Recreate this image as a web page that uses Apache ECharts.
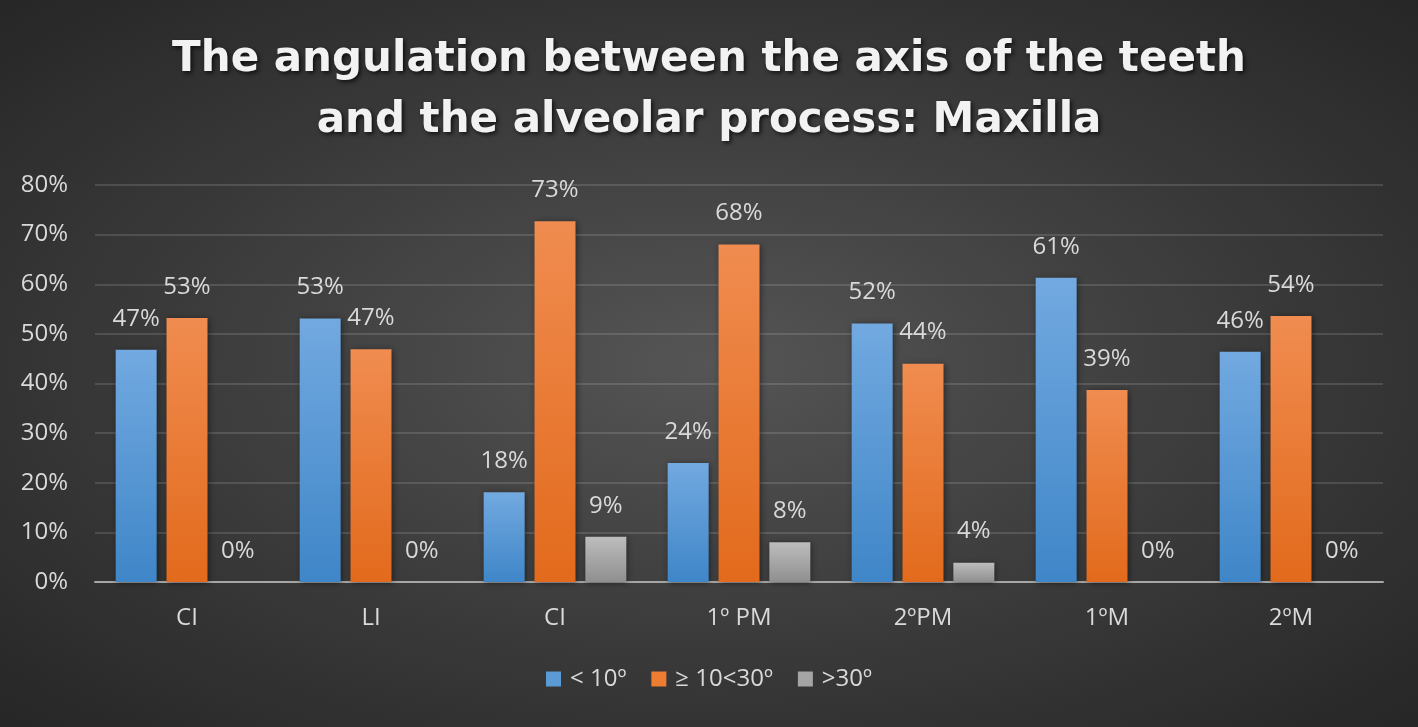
<!DOCTYPE html>
<html>
<head>
<meta charset="utf-8">
<script src="https://cdn.jsdelivr.net/npm/echarts@6/dist/echarts.min.js"></script>
<style>
html,body{margin:0;padding:0;width:1418px;height:727px;overflow:hidden;}
#chart{width:1418px;height:727px;background:radial-gradient(ellipse at 50% 50%, #555555 0%, #3a3a3a 55%, #262626 100%);}
</style>
</head>
<body>
<div id="chart"></div>
<script>
const categories = ['CI', 'LI', 'CI', '1º PM', '2ºPM', '1ºM', '2ºM'];
const seriesNames = ['< 10º', '≥ 10<30º', '>30º'];
const lessThan10 = [46.8, 53.1, 18.1, 24.0, 52.1, 61.3, 46.4];
const from10to30 = [53.2, 46.9, 72.7, 68.0, 44.0, 38.7, 53.6];
const over30 = [0, 0, 9.1, 8.0, 3.9, 0, 0];
const yTicks = [0, 10, 20, 30, 40, 50, 60, 70, 80];

const chart = echarts.init(document.getElementById('chart'), null, {renderer: 'canvas'});
const FONT = '"Open Sans", sans-serif';
const LABEL_COLOR = '#d9d9d9';

function grad(top, bottom) {
  return new echarts.graphic.LinearGradient(0, 0, 0, 1, [
    {offset: 0, color: top}, {offset: 1, color: bottom}
  ]);
}
const colors = [grad('#72a9e0', '#3f86c8'), grad('#f08c50', '#e26a1c'), grad('#bdbdbd', '#8f8f8f')];
const legendColors = ['#5b9bd5', '#ed7d31', '#a5a5a5'];
const dataSets = [lessThan10, from10to30, over30];

const series = dataSets.map((d, i) => ({
  name: seriesNames[i],
  type: 'bar',
  data: d,
  barWidth: 41,
  barGap: '24%',
  itemStyle: {color: colors[i], shadowColor: 'rgba(0,0,0,0.45)', shadowBlur: 6, shadowOffsetX: 1, shadowOffsetY: 1},
  label: {
    show: true,
    position: 'top',
    distance: 19,
    color: LABEL_COLOR,
    fontFamily: FONT,
    fontSize: 24,
    formatter: p => Math.round(p.value) + '%'
  },
  emphasis: {disabled: true}
}));

chart.setOption({
  backgroundColor: 'transparent',
  animation: false,
  color: legendColors,
  title: {
    text: 'The angulation between the axis of the teeth\nand the alveolar process: Maxilla',
    left: 'center',
    top: 25,
    textStyle: {
      color: '#f2f2f2',
      fontFamily: '"DejaVu Sans", sans-serif',
      fontWeight: 'bold',
      fontSize: 42,
      lineHeight: 61,
      textShadowColor: 'rgba(0,0,0,0.7)',
      textShadowBlur: 4,
      textShadowOffsetX: 2,
      textShadowOffsetY: 2
    }
  },
  legend: {
    bottom: 31,
    left: 'center',
    itemWidth: 15,
    itemHeight: 15,
    itemGap: 25,
    icon: 'rect',
    formatter: n => '\u2009' + n,
    textStyle: {color: LABEL_COLOR, fontFamily: FONT, fontSize: 24},
    data: seriesNames.map((n, i) => ({name: n, itemStyle: {color: legendColors[i]}}))
  },
  grid: {left: 95, right: 35, top: 185, bottom: 145, containLabel: false},
  xAxis: {
    type: 'category',
    data: categories,
    axisLine: {lineStyle: {color: '#a6a6a6', width: 2}},
    axisTick: {show: false},
    axisLabel: {color: LABEL_COLOR, fontFamily: FONT, fontSize: 24, margin: 24}
  },
  yAxis: {
    type: 'value',
    min: yTicks[0],
    max: yTicks[yTicks.length - 1],
    interval: 10,
    axisLine: {show: false},
    axisTick: {show: false},
    axisLabel: {color: LABEL_COLOR, fontFamily: FONT, fontSize: 24, margin: 27, formatter: v => v + '%'},
    splitLine: {lineStyle: {color: 'rgba(255,255,255,0.13)', width: 2}}
  },
  series: series
});
</script>
</body>
</html>
